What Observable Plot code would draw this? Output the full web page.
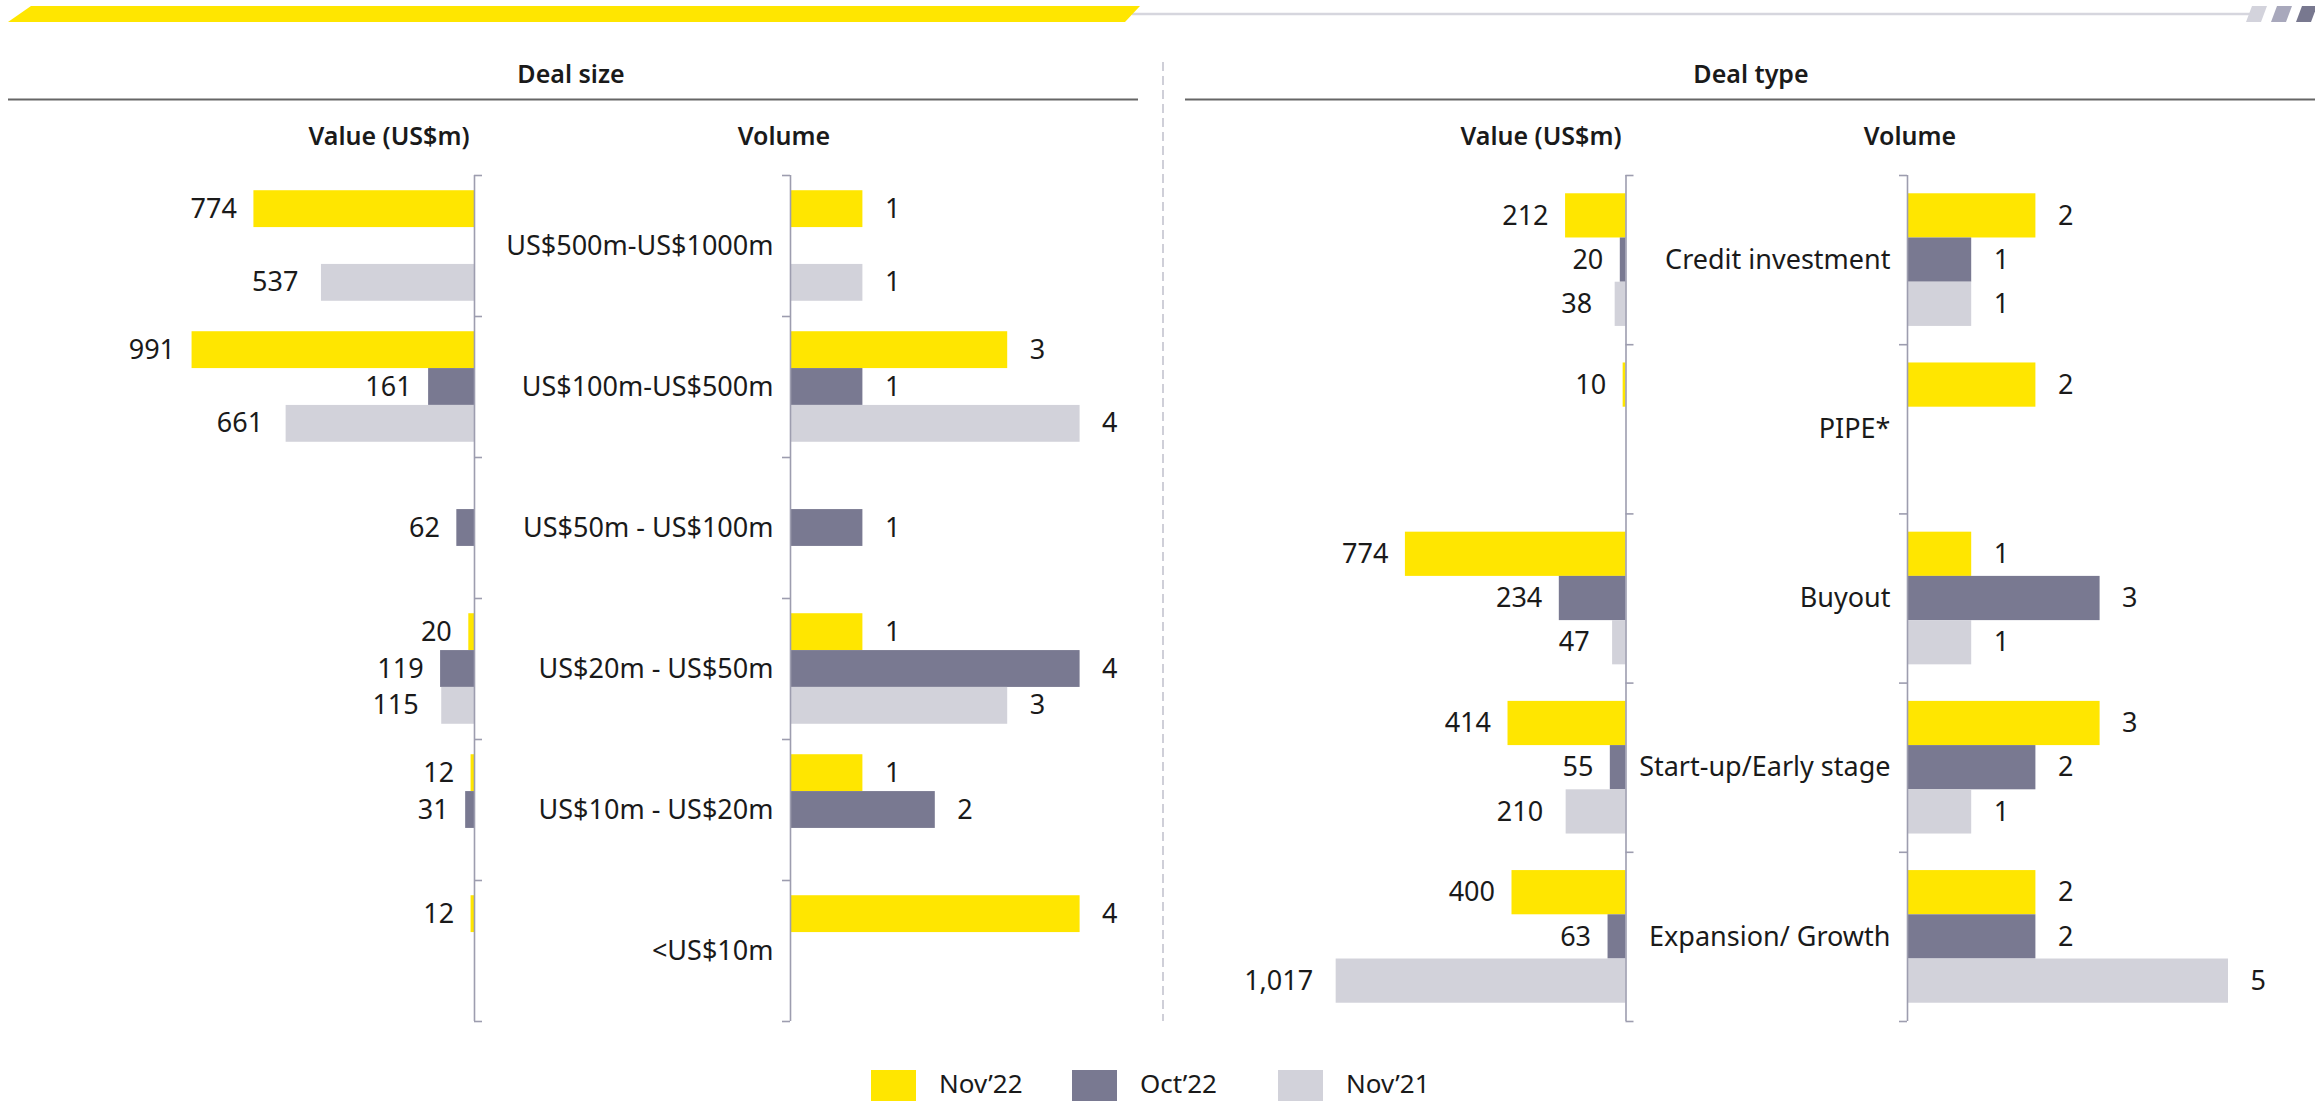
<!DOCTYPE html>
<html>
<head>
<meta charset="utf-8">
<script src="https://cdn.jsdelivr.net/npm/d3@7"></script>
<script src="https://cdn.jsdelivr.net/npm/@observablehq/plot@0.6"></script>
<style>
html, body { margin: 0; padding: 0; background: #fff; }
#root { position: relative; width: 2315px; height: 1101px; overflow: hidden; font-family: "Noto Sans", sans-serif; color: #1a1a1a; }
#root svg { overflow: visible; }
.abs { position: absolute; top: 0; }
</style>
</head>
<body>
<div id="root"></div>
<script>
// ---------------- data ----------------
const series = ["Nov’22", "Oct’22", "Nov’21"];
const seriesColors = ["#FFE600", "#797991", "#D2D2DA"];

const sizeCategories = ["US$500m-US$1000m", "US$100m-US$500m", "US$50m - US$100m", "US$20m - US$50m", "US$10m - US$20m", "<US$10m"];
const sizeValueNov22 = [774, 991, null, 20, 12, 12];
const sizeValueOct22 = [null, 161, 62, 119, 31, null];
const sizeValueNov21 = [537, 661, null, 115, null, null];
const sizeVolumeNov22 = [1, 3, null, 1, 1, 4];
const sizeVolumeOct22 = [null, 1, 1, 4, 2, null];
const sizeVolumeNov21 = [1, 4, null, 3, null, null];

const typeCategories = ["Credit investment", "PIPE*", "Buyout", "Start-up/Early stage", "Expansion/ Growth"];
const typeValueNov22 = [212, 10, 774, 414, 400];
const typeValueOct22 = [20, null, 234, 55, 63];
const typeValueNov21 = [38, null, 47, 210, 1017];
const typeVolumeNov22 = [2, 2, 1, 3, 2];
const typeVolumeOct22 = [1, null, 3, 2, 2];
const typeVolumeNov21 = [1, null, 1, 1, 5];

// ---------------- helpers ----------------
function toRows(cats, arrays) {
  const out = [];
  arrays.forEach((arr, s) => arr.forEach((v, i) => {
    if (v != null) out.push({category: cats[i], series: series[s], s, value: v});
  }));
  return out;
}

const root = document.getElementById("root");
const TOP = 175, BOTTOM = 1021, TICK = 8, FONT = 27;
const ink = "#1a1a1a", axisColor = "#9d9daf";

function panel({cats, rows, svgLeft, svgWidth, axisX, ppu, direction, fmt, labelGap, showCats}) {
  const ax = axisX - svgLeft;
  const step = (BOTTOM - TOP) / cats.length;
  const pad = step * 0.108;
  const h = (step - 2 * pad) / 3;
  const sign = direction === "left" ? -1 : 1;
  const marks = [];
  for (let s = 0; s < 3; s++) {
    const data = rows.filter(d => d.s === s);
    marks.push(Plot.barX(data, {
      x: "value", y: "category", fill: seriesColors[s],
      insetTop: pad + s * h, insetBottom: step - pad - (s + 1) * h
    }));
    marks.push(Plot.text(data, {
      x: "value", y: "category", text: d => fmt(d.value),
      dy: pad + (s + 0.5) * h - step / 2,
      dx: sign * labelGap[s],
      textAnchor: direction === "left" ? "end" : "start",
      fontSize: FONT, fill: ink
    }));
  }
  // axis line and boundary ticks
  marks.push(Plot.ruleX([0], {stroke: axisColor, strokeWidth: 1.6}));
  marks.push(Plot.ruleY(cats, {y: d => d, x1: 0, x2: -TICK / ppu, dy: -step / 2, stroke: axisColor, strokeWidth: 1.6}));
  marks.push(Plot.ruleY(cats.slice(-1), {y: d => d, x1: 0, x2: -TICK / ppu, dy: step / 2, stroke: axisColor, strokeWidth: 1.6}));

  const chart = Plot.plot({
    width: svgWidth,
    height: 1040,
    marginTop: TOP,
    marginBottom: 1040 - BOTTOM,
    marginLeft: direction === "left" ? 0 : ax,
    marginRight: direction === "left" ? svgWidth - ax : 10,
    x: {domain: [0, 1000], range: [ax, ax + sign * 1000 * ppu], axis: null},
    y: showCats
      ? {type: "band", domain: cats, range: [TOP, BOTTOM], padding: 0, round: false, axis: "left", tickSize: 0, tickPadding: 17, label: null}
      : {type: "band", domain: cats, range: [TOP, BOTTOM], padding: 0, round: false, axis: null},
    style: {fontFamily: "Noto Sans", fontSize: FONT + "px", color: ink, background: "transparent", overflow: "visible"},
    marks
  });
  chart.classList.add("abs");
  chart.style.left = svgLeft + "px";
  root.appendChild(chart);
}

// ---------------- decorations, headings, legend ----------------
const NS = "http://www.w3.org/2000/svg";
const deco = document.createElementNS(NS, "svg");
deco.setAttribute("width", 2315); deco.setAttribute("height", 1101);
deco.setAttribute("class", "abs"); deco.style.left = "0px";
function el(tag, attrs, text) {
  const e = document.createElementNS(NS, tag);
  for (const k in attrs) e.setAttribute(k, attrs[k]);
  if (text != null) e.textContent = text;
  deco.appendChild(e);
  return e;
}
el("line", {x1: 1132, x2: 2250, y1: 14, y2: 14, stroke: "#d6d6de", "stroke-width": 2.5});
el("polygon", {points: "31,6 1140,6 1125,22 8,22", fill: "#FFE600"});
[["#d3d3dc", 2246], ["#a8a8bc", 2271], ["#78788f", 2296]].forEach(([c, x]) => {
  el("polygon", {points: `${x + 6},6 ${x + 21},6 ${x + 15},22 ${x},22`, fill: c});
});
el("line", {x1: 8, x2: 1138, y1: 99.5, y2: 99.5, stroke: "#666", "stroke-width": 2});
el("line", {x1: 1185, x2: 2315, y1: 99.5, y2: 99.5, stroke: "#666", "stroke-width": 2});
el("line", {x1: 1163, x2: 1163, y1: 62, y2: 1021, stroke: "#cfcfd8", "stroke-width": 2, "stroke-dasharray": "9,5"});
const headFont = {"font-family": "Noto Sans", "font-size": 25, "font-weight": 600, "text-anchor": "middle", fill: ink};
el("text", {...headFont, x: 571, y: 83}, "Deal size");
el("text", {...headFont, x: 1751, y: 83}, "Deal type");
el("text", {...headFont, x: 389, y: 145}, "Value (US$m)");
el("text", {...headFont, x: 784, y: 145}, "Volume");
el("text", {...headFont, x: 1541, y: 145}, "Value (US$m)");
el("text", {...headFont, x: 1910, y: 145}, "Volume");
const legendX = [871, 1072, 1278];
series.forEach((name, i) => {
  el("rect", {x: legendX[i], y: 1070, width: 45, height: 34, fill: seriesColors[i]});
  el("text", {x: legendX[i] + 68, y: 1093, "font-family": "Noto Sans", "font-size": 26, fill: ink}, name);
});
root.appendChild(deco);

// ---------------- panels ----------------
const fmtValue = d3.format(",");
const fmtVol = d3.format("d");
const sizeValueRows = toRows(sizeCategories, [sizeValueNov22, sizeValueOct22, sizeValueNov21]);
const sizeVolumeRows = toRows(sizeCategories, [sizeVolumeNov22, sizeVolumeOct22, sizeVolumeNov21]);
const typeValueRows = toRows(typeCategories, [typeValueNov22, typeValueOct22, typeValueNov21]);
const typeVolumeRows = toRows(typeCategories, [typeVolumeNov22, typeVolumeOct22, typeVolumeNov21]);

panel({cats: sizeCategories, rows: sizeValueRows, svgLeft: 0, svgWidth: 494, axisX: 474, ppu: 0.285, direction: "left", fmt: fmtValue, labelGap: [17, 17, 23], showCats: false});
panel({cats: sizeCategories, rows: sizeVolumeRows, svgLeft: 480, svgWidth: 670, axisX: 790, ppu: 72.4, direction: "right", fmt: fmtVol, labelGap: [22, 22, 22], showCats: true});
panel({cats: typeCategories, rows: typeValueRows, svgLeft: 1170, svgWidth: 475, axisX: 1625.5, ppu: 0.285, direction: "left", fmt: fmtValue, labelGap: [17, 17, 23], showCats: false});
panel({cats: typeCategories, rows: typeVolumeRows, svgLeft: 1640, svgWidth: 675, axisX: 1907, ppu: 64.2, direction: "right", fmt: fmtVol, labelGap: [22, 22, 22], showCats: true});
</script>
</body>
</html>
